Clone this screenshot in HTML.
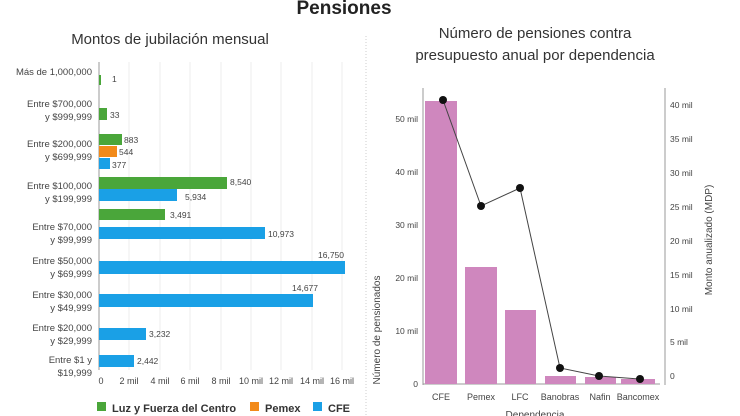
<!DOCTYPE html>
<html><head><meta charset="utf-8"><style>
html,body{margin:0;padding:0;background:#fff;}
svg{display:block;font-family:"Liberation Sans",sans-serif;}
</style></head><body>
<svg width="740" height="416" viewBox="0 0 740 416">
<rect width="740" height="416" fill="#fff"/>
<text x="344" y="14" font-size="19" font-weight="bold" text-anchor="middle" fill="#222">Pensiones</text>
<text x="170" y="44" font-size="15" text-anchor="middle" fill="#333">Montos de jubilación mensual</text>
<text x="535" y="38" font-size="15" text-anchor="middle" fill="#333">Número de pensiones contra</text>
<text x="535" y="60" font-size="15" text-anchor="middle" fill="#333">presupuesto anual por dependencia</text>
<line x1="366" y1="36" x2="366" y2="416" stroke="#ccc" stroke-dasharray="1,2"/>
<!-- left grid -->
<g stroke="#eee">
<line x1="129" y1="62" x2="129" y2="370"/><line x1="160" y1="62" x2="160" y2="370"/>
<line x1="190" y1="62" x2="190" y2="370"/><line x1="221" y1="62" x2="221" y2="370"/>
<line x1="251" y1="62" x2="251" y2="370"/><line x1="281" y1="62" x2="281" y2="370"/>
<line x1="312" y1="62" x2="312" y2="370"/><line x1="342" y1="62" x2="342" y2="370"/>
</g>
<line x1="99" y1="62" x2="99" y2="370" stroke="#999"/>
<g font-size="9.5" fill="#444" text-anchor="end">
<text x="92" y="75">Más de 1,000,000</text>
<text x="92" y="107">Entre $700,000</text><text x="92" y="120">y $999,999</text>
<text x="92" y="147">Entre $200,000</text><text x="92" y="160">y $699,999</text>
<text x="92" y="189">Entre $100,000</text><text x="92" y="202">y $199,999</text>
<text x="92" y="230">Entre $70,000</text><text x="92" y="243">y $99,999</text>
<text x="92" y="264">Entre $50,000</text><text x="92" y="277">y $69,999</text>
<text x="92" y="298">Entre $30,000</text><text x="92" y="311">y $49,999</text>
<text x="92" y="331">Entre $20,000</text><text x="92" y="344">y $29,999</text>
<text x="92" y="363">Entre $1 y</text><text x="92" y="376">$19,999</text>
</g>
<g>
<rect x="99" y="75" width="2" height="10" fill="#4aa63a"/>
<rect x="99" y="108" width="8" height="12" fill="#4aa63a"/>
<rect x="99" y="134" width="23" height="11" fill="#4aa63a"/>
<rect x="99" y="146" width="18" height="11" fill="#f28a1a"/>
<rect x="99" y="158" width="11" height="11" fill="#1aa0e6"/>
<rect x="99" y="177" width="128" height="12" fill="#4aa63a"/>
<rect x="99" y="189" width="78" height="12" fill="#1aa0e6"/>
<rect x="99" y="209" width="66" height="11" fill="#4aa63a"/>
<rect x="99" y="227" width="166" height="12" fill="#1aa0e6"/>
<rect x="99" y="261" width="246" height="13" fill="#1aa0e6"/>
<rect x="99" y="294" width="214" height="13" fill="#1aa0e6"/>
<rect x="99" y="328" width="47" height="12" fill="#1aa0e6"/>
<rect x="99" y="355" width="35" height="12" fill="#1aa0e6"/>
</g>
<g font-size="8.5" fill="#444">
<text x="112" y="82">1</text><text x="110" y="118">33</text>
<text x="124" y="143">883</text><text x="119" y="155">544</text><text x="112" y="168">377</text>
<text x="230" y="185">8,540</text><text x="185" y="200">5,934</text>
<text x="170" y="218">3,491</text><text x="268" y="237">10,973</text>
<text x="318" y="258">16,750</text><text x="292" y="291">14,677</text>
<text x="149" y="337">3,232</text><text x="137" y="364">2,442</text>
</g>
<g font-size="9" fill="#444" text-anchor="middle">
<text x="101" y="384">0</text><text x="129" y="384">2 mil</text><text x="160" y="384">4 mil</text>
<text x="190" y="384">6 mil</text><text x="221" y="384">8 mil</text><text x="251" y="384">10 mil</text>
<text x="281" y="384">12 mil</text><text x="312" y="384">14 mil</text><text x="342" y="384">16 mil</text>
</g>
<g font-size="11" font-weight="bold" fill="#333">
<rect x="97" y="402" width="9" height="9" fill="#4aa63a"/><text x="112" y="412">Luz y Fuerza del Centro</text>
<rect x="250" y="402" width="9" height="9" fill="#f28a1a"/><text x="265" y="412">Pemex</text>
<rect x="313" y="402" width="9" height="9" fill="#1aa0e6"/><text x="328" y="412">CFE</text>
</g>
<!-- right chart -->
<line x1="423" y1="88" x2="423" y2="385" stroke="#999"/>
<line x1="665" y1="88" x2="665" y2="385" stroke="#999"/>
<line x1="423" y1="384" x2="660" y2="384" stroke="#999"/>
<g fill="#cf87be">
<rect x="425" y="101" width="32" height="283"/>
<rect x="465" y="267" width="32" height="117"/>
<rect x="505" y="310" width="31" height="74"/>
<rect x="545" y="376" width="31" height="8"/>
<rect x="585" y="377" width="31" height="7"/>
<rect x="621" y="379" width="34" height="5"/>
</g>
<polyline points="443,100 481,206 520,188 560,368 599,376 640,379" fill="none" stroke="#444" stroke-width="1"/>
<g fill="#111">
<circle cx="443" cy="100" r="4"/><circle cx="481" cy="206" r="4"/><circle cx="520" cy="188" r="4"/>
<circle cx="560" cy="368" r="4"/><circle cx="599" cy="376" r="4"/><circle cx="640" cy="379" r="4"/>
</g>
<g font-size="8.5" fill="#444" text-anchor="end">
<text x="418" y="387">0</text><text x="418" y="334">10 mil</text><text x="418" y="281">20 mil</text>
<text x="418" y="228">30 mil</text><text x="418" y="175">40 mil</text><text x="418" y="122">50 mil</text>
</g>
<g font-size="8.5" fill="#444">
<text x="670" y="379">0</text><text x="670" y="345">5 mil</text><text x="670" y="312">10 mil</text>
<text x="670" y="278">15 mil</text><text x="670" y="244">20 mil</text><text x="670" y="210">25 mil</text>
<text x="670" y="176">30 mil</text><text x="670" y="142">35 mil</text><text x="670" y="108">40 mil</text>
</g>
<g font-size="9" fill="#444" text-anchor="middle">
<text x="441" y="400">CFE</text><text x="481" y="400">Pemex</text><text x="520" y="400">LFC</text>
<text x="560" y="400">Banobras</text><text x="600" y="400">Nafin</text><text x="638" y="400">Bancomex</text>
</g>
<text x="535" y="418" font-size="10" fill="#444" text-anchor="middle">Dependencia</text>
<text transform="translate(380,330) rotate(-90)" font-size="10" fill="#444" text-anchor="middle">Número de pensionados</text>
<text transform="translate(712,240) rotate(-90)" font-size="10" fill="#444" text-anchor="middle">Monto anualizado (MDP)</text>
</svg>
</body></html>
